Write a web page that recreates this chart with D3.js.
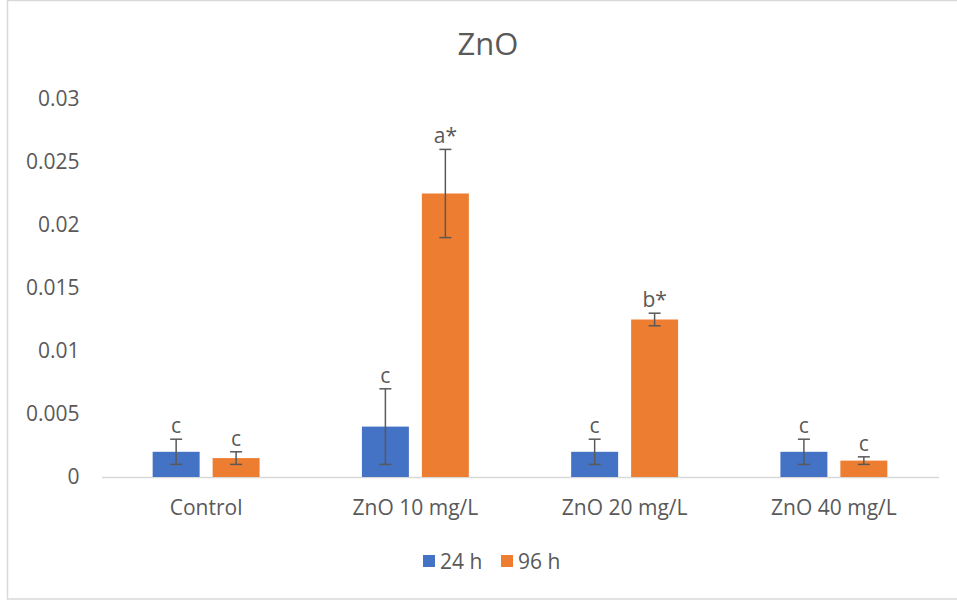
<!DOCTYPE html>
<html>
<head>
<meta charset="utf-8">
<script src="https://cdn.jsdelivr.net/npm/d3@7"></script>
<style>
  body { margin: 0; background: #fff; }
  text { font-family: "Open Sans", sans-serif; fill: #595959; }
</style>
</head>
<body>
<div id="container"></div>
<script>
const width = 957,
  height = 601,
  margin = { top: 99, bottom: 124, left: 101.5, right: 18.5 },
  fontSize = 21;

/* DATA */
const categories = ["Control", "ZnO 10 mg/L", "ZnO 20 mg/L", "ZnO 40 mg/L"];
const series = ["24 h", "96 h"];
const values24 = [0.002, 0.004, 0.002, 0.002];
const values96 = [0.0015, 0.0225, 0.0125, 0.0013];
const errors24 = [0.001, 0.003, 0.001, 0.001];
const errors96 = [0.0005, 0.0035, 0.0005, 0.0003];
const letters24 = ["c", "c", "c", "c"];
const letters96 = ["c", "a*", "b*", "c"];
const yTicks = [0, 0.005, 0.01, 0.015, 0.02, 0.025, 0.03];
const colors = ["#4472C4", "#ED7D31"];

const data = [];
categories.forEach((c, i) => {
  data.push({ cat: c, s: series[0], v: values24[i], e: errors24[i], lab: letters24[i] });
  data.push({ cat: c, s: series[1], v: values96[i], e: errors96[i], lab: letters96[i] });
});

/* SCALES */
const x0 = d3.scaleBand()
  .domain(categories)
  .range([margin.left, width - margin.right])
  .paddingInner(0.489)
  .paddingOuter(0.2445);

const x1 = d3.scaleBand()
  .domain(series)
  .range([0, x0.bandwidth()])
  .paddingInner(0.2167);

const yScale = d3.scaleLinear()
  .domain([0, 0.03])
  .range([height - margin.bottom, margin.top]);

const colorScale = d3.scaleOrdinal()
  .domain(series)
  .range(colors);

const svg = d3.select("#container")
  .append("svg")
  .attr("width", width)
  .attr("height", height);

// chart border
svg.append("rect")
  .attr("x", 7.5).attr("y", 0.5)
  .attr("width", 960).attr("height", 598.5)
  .attr("fill", "none")
  .attr("stroke", "#d9d9d9")
  .attr("stroke-width", 1.5);

// title
svg.append("text")
  .attr("x", 488).attr("y", 55)
  .attr("text-anchor", "middle")
  .attr("font-size", 31)
  .text("ZnO");

// y axis labels (no line)
const yAxis = d3.axisLeft(yScale)
  .tickValues(yTicks)
  .tickSize(0)
  .tickPadding(22)
  .tickFormat(d => d === 0 ? "0" : String(+d.toFixed(3)));
const gy = svg.append("g")
  .attr("transform", `translate(${margin.left}, 0)`)
  .call(yAxis);
gy.select(".domain").remove();
gy.selectAll("text")
  .attr("font-size", fontSize)
  .attr("font-family", "'Open Sans', sans-serif")
  .attr("fill", "#595959");

// x axis
const xAxis = d3.axisBottom(x0).tickSize(0).tickPadding(23);
const gx = svg.append("g")
  .attr("transform", `translate(0, ${height - margin.bottom})`)
  .call(xAxis);
gx.select(".domain")
  .attr("stroke", "#d9d9d9")
  .attr("stroke-width", 1.5);
gx.selectAll("text")
  .attr("font-size", fontSize)
  .attr("font-family", "'Open Sans', sans-serif")
  .attr("fill", "#595959");

/* BARS */
svg.selectAll(".bar")
  .data(data)
  .join("rect")
  .attr("class", "bar")
  .attr("x", d => x0(d.cat) + x1(d.s))
  .attr("y", d => yScale(d.v))
  .attr("width", x1.bandwidth())
  .attr("height", d => yScale(0) - yScale(d.v))
  .attr("fill", d => colorScale(d.s));

// error bars
const eb = svg.selectAll(".err")
  .data(data)
  .join("g")
  .attr("class", "err")
  .attr("stroke", "#595959")
  .attr("stroke-width", 1.5);
const cx = d => x0(d.cat) + x1(d.s) + x1.bandwidth() / 2;
eb.append("line")
  .attr("x1", cx).attr("x2", cx)
  .attr("y1", d => yScale(d.v + d.e))
  .attr("y2", d => yScale(d.v - d.e));
eb.append("line")
  .attr("x1", d => cx(d) - 6).attr("x2", d => cx(d) + 6)
  .attr("y1", d => yScale(d.v + d.e))
  .attr("y2", d => yScale(d.v + d.e));
eb.append("line")
  .attr("x1", d => cx(d) - 6).attr("x2", d => cx(d) + 6)
  .attr("y1", d => yScale(d.v - d.e))
  .attr("y2", d => yScale(d.v - d.e));

// significance letters
svg.selectAll(".lab")
  .data(data)
  .join("text")
  .attr("class", "lab")
  .attr("x", cx)
  .attr("y", d => yScale(d.v + d.e) - 6)
  .attr("text-anchor", "middle")
  .attr("font-size", fontSize)
  .text(d => d.lab);

/* LEGEND */
const legendX = [423, 501];
const legend = svg.selectAll(".legend")
  .data(series)
  .join("g")
  .attr("class", "legend")
  .attr("transform", (d, i) => `translate(${legendX[i]}, 555)`);
legend.append("rect")
  .attr("width", 12).attr("height", 12)
  .attr("fill", d => colorScale(d));
legend.append("text")
  .attr("x", 17).attr("y", 13.5)
  .attr("font-size", fontSize)
  .text(d => d);
</script>
</body>
</html>
